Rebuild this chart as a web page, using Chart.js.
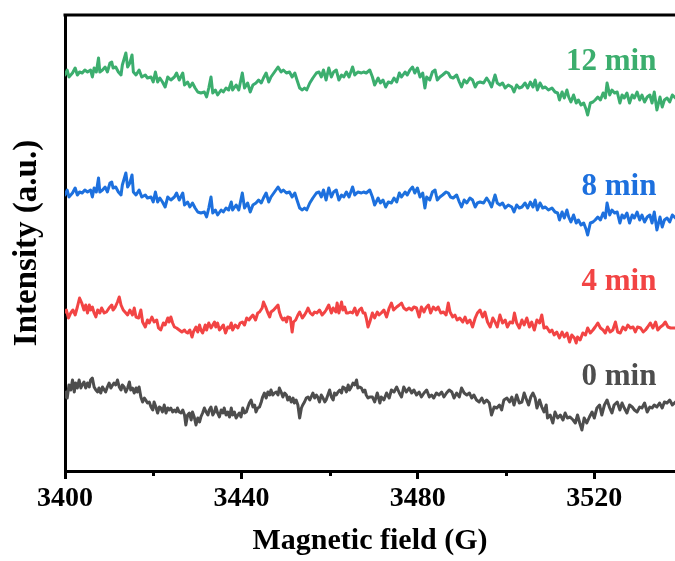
<!DOCTYPE html>
<html>
<head>
<meta charset="utf-8">
<script src="https://cdn.jsdelivr.net/npm/chart.js@4.4.1/dist/chart.umd.min.js"></script>
<style>
html,body{margin:0;padding:0;background:#fff;}
canvas{display:block;}
</style>
</head>
<body>
<canvas id="c" width="675" height="561" style="width:675px;height:561px"></canvas>
<script>
// Series names
const seriesNames = ['0 min', '4 min', '8 min', '12 min'];
const seriesColors = ['#4d4d4d', '#f24444', '#1d70de', '#3cae6e'];

// Magnetic field (G) sampling of the 8 min and 12 min traces
const field812 = [
3400.0,3400.5,3400.9,3401.7,3402.3,3402.8,3403.3,3403.9,3404.5,3405.1,
3405.8,3406.2,3406.6,3407.1,3407.6,3407.9,3408.5,3409.1,3409.6,3410.2,
3410.6,3410.9,3411.5,3412.1,3412.7,3413.0,3413.8,3414.2,3414.7,3415.2,
3415.5,3416.1,3416.8,3417.4,3418.2,3418.7,3419.5,3420.0,3420.5,3421.0,
3421.5,3422.1,3422.7,3423.3,3424.0,3424.8,3425.3,3425.9,3426.7,3427.1,
3427.8,3428.3,3428.9,3429.5,3430.1,3430.8,3431.6,3432.1,3432.6,3433.1,
3433.5,3434.1,3434.6,3435.4,3435.9,3436.5,3437.1,3437.7,3438.0,3438.8,
3439.4,3440.2,3440.7,3441.4,3442.0,3442.6,3443.3,3443.9,3444.5,3445.0,
3445.6,3446.2,3446.7,3447.5,3448.3,3449.0,3449.5,3450.2,3450.9,3451.5,
3452.1,3452.6,3453.2,3453.8,3454.3,3454.8,3455.5,3456.2,3457.0,3457.6,
3458.1,3458.6,3459.2,3459.8,3460.4,3460.9,3461.5,3462.1,3462.7,3463.2,
3463.8,3464.4,3465.2,3465.7,3466.4,3467.2,3467.7,3468.3,3469.1,
3469.7,3470.2,3471.0,3471.5,3472.1,3472.7,3473.3,3474.0,3474.6,3475.2,
3475.8,3476.3,3477.1,3477.6,3478.2,3478.8,3479.3,3479.9,3480.5,3481.1,
3481.6,3482.0,3482.7,3483.3,3483.9,3484.4,3485.0,3485.6,3486.4,3486.9,
3487.4,3488.0,3488.8,3489.4,3489.9,3490.5,3491.1,3491.8,3492.4,3493.0,
3493.5,3494.1,3494.9,3495.6,3496.2,3496.7,3497.5,3498.0,3498.6,3499.2,
3499.8,3500.5,3501.3,3501.8,3502.4,3503.0,3503.6,3504.3,3504.9,3505.5,
3506.1,3506.6,3507.1,3507.7,3508.3,3508.9,3509.6,3510.4,3511.1,3511.7,
3512.1,3512.7,3513.2,3513.8,3514.2,3514.7,3515.3,3515.9,3516.4,3517.0,
3517.6,3518.2,3518.5,3519.1,3519.7,3520.2,3520.8,3521.4,3522.0,3522.5,
3522.9,3523.5,3524.0,3524.6,3525.2,3525.8,3526.3,3526.8,3527.4,3528.0,
3528.6,3529.1,3529.7,3530.3,3530.8,3531.4,3532.0,3532.6,3533.1,3533.6,
3534.2,3534.9,3535.4,3535.9,3536.5,3537.1,3537.7,3538.4
];

// Intensity (a.u., stacked offsets as plotted) - 12 min
const int12 = [
397,402,395,399,404,397,400,399,402,400,
402,395,404,400,414,400,402,405,400,409,
410,404,405,400,397,407,419,405,409,417,
400,397,402,395,397,394,395,390,400,390,
394,390,385,395,392,395,399,392,399,387,
390,385,389,384,380,379,380,375,384,395,
379,382,377,382,380,384,382,390,382,387,
382,399,384,389,380,387,389,392,389,394,
399,390,395,400,405,400,402,399,400,395,
399,392,384,382,384,382,389,394,399,400,
395,402,392,404,395,400,402,392,397,395,
400,395,405,397,400,399,400,399,402,
395,387,394,389,392,385,390,389,394,390,
399,395,400,397,402,405,399,404,395,399,
384,395,392,400,402,392,395,397,400,399,
395,394,397,390,385,392,389,394,392,385,
389,390,389,394,390,385,397,389,387,389,
384,387,385,380,387,384,385,389,384,390,
385,392,382,389,384,385,382,384,380,379,
372,380,374,382,375,370,377,369,372,367,
369,362,357,369,370,372,375,372,379,374,
389,377,382,379,380,369,377,374,379,369,
377,374,380,372,377,370,375,377,369,380,
362,375,365,372,374,370,377,374
];

// Intensity - 8 min
const int8 = [
277,282,275,279,284,277,280,279,282,280,
282,275,284,280,294,280,282,285,280,289,
290,284,285,280,277,287,299,285,289,297,
280,277,282,275,277,274,275,270,280,270,
274,270,265,275,272,275,279,272,279,267,
270,265,269,264,260,259,260,255,264,275,
259,262,257,262,260,264,262,270,262,267,
262,279,264,269,260,267,269,272,269,274,
279,270,275,280,285,280,282,279,280,275,
279,272,264,262,264,262,269,274,279,280,
275,282,272,284,275,280,282,272,277,275,
280,275,285,277,280,279,280,279,282,
275,267,274,269,272,265,270,269,274,270,
279,275,280,277,282,285,279,284,275,279,
264,275,272,280,282,272,275,277,280,279,
275,274,277,270,265,272,269,274,272,265,
269,270,269,274,270,265,277,269,267,269,
264,267,265,260,267,264,265,269,264,270,
265,272,262,269,264,265,262,264,260,259,
252,260,254,262,255,250,257,249,252,247,
249,242,237,249,250,252,255,252,259,254,
269,257,262,259,260,249,257,254,259,249,
257,254,260,252,257,250,255,257,249,260,
242,255,245,252,254,250,257,254
];

// Magnetic field (G) sampling of the 4 min trace
const field4 = [
3400.0,3400.3,3400.8,3401.3,3401.8,3402.3,3402.8,3403.3,3403.8,3404.3,
3404.7,3405.1,3405.5,3405.8,3406.2,3406.6,3407.0,3407.4,3407.9,3408.3,
3408.9,3409.4,3410.0,3410.6,3410.9,3411.4,3411.9,3412.3,3412.7,3413.2,
3413.6,3414.2,3414.7,3415.3,3415.7,3416.1,3416.7,3417.2,3417.6,3418.2,
3418.7,3419.1,3419.7,3420.2,3420.8,3421.2,3421.7,3422.3,3422.7,3423.3,
3423.6,3424.0,3424.4,3424.8,3425.3,3425.9,3426.5,3427.1,3427.4,3427.8,
3428.3,3428.8,3429.1,3429.7,3430.1,3430.5,3430.8,3431.2,3431.8,3432.1,
3432.6,3433.1,3433.5,3433.9,3434.2,3434.6,3435.0,3435.4,3435.9,3436.4,
3436.9,3437.3,3437.7,3438.0,3438.6,3439.2,3439.7,3440.2,3440.7,3441.2,
3441.7,3442.2,3442.6,3443.2,3443.7,3444.1,3444.7,3445.0,3445.5,3446.0,
3446.4,3446.7,3447.3,3447.9,3448.3,3448.6,3449.0,3449.4,3449.8,3450.2,
3450.5,3451.1,3451.5,3451.8,3452.3,3452.8,3453.2,3453.8,3454.3,3454.7,
3455.1,3455.6,3456.1,3456.6,3457.1,3457.7,3458.3,3458.9,3459.2,3459.8,
3460.4,3460.8,3461.4,3461.7,3462.1,3462.7,3463.0,3463.4,3463.8,3464.2,
3464.7,3465.2,3465.7,3466.2,3466.7,3467.2,3467.6,3468.0,3468.3,3468.7,
3469.1,
3469.7,3470.2,3470.8,3471.2,3471.7,3472.3,3472.9,3473.5,3474.0,3474.5,
3475.2,3475.8,3476.3,3476.8,3477.4,3478.0,3478.6,3479.1,3479.7,3480.3,
3480.8,3481.4,3481.8,3482.4,3482.9,3483.5,3484.1,3484.6,3485.2,3485.8,
3486.4,3486.9,3487.3,3487.9,3488.4,3488.9,3489.5,3490.2,3490.7,3491.2,
3491.8,3492.4,3493.0,3493.5,3494.1,3494.7,3495.2,3495.8,3496.4,3497.0,
3497.5,3498.0,3498.6,3499.2,3499.8,3500.3,3500.9,3501.5,3501.9,3502.4,
3503.0,3503.6,3504.1,3504.7,3505.3,3505.8,3506.4,3507.0,3507.6,3508.1,
3508.6,3509.2,3509.9,3510.4,3510.9,3511.5,3512.1,3512.7,3513.2,3513.8,
3514.4,3514.9,3515.5,3515.9,3516.2,3516.8,3517.4,3518.0,3518.5,3519.1,
3519.7,3520.2,3520.8,3521.4,3522.0,3522.5,3523.0,3523.6,3524.2,3524.8,
3525.3,3525.9,3526.5,3527.1,3527.6,3528.2,3528.8,3529.3,3529.8,3530.5,
3531.1,3531.6,3532.1,3532.7,3533.3,3533.9,3534.4,3535.0,3535.6,3536.1,
3536.7,3537.3,3538.4
];

// Intensity - 4 min
const int4 = [
160,162,154,159,162,157,165,174,169,162,
167,159,167,162,165,159,155,162,159,164,
159,160,164,167,162,165,170,175,167,162,
160,157,162,157,164,155,154,162,150,145,
152,149,155,150,152,144,142,149,147,154,
150,155,149,145,144,142,140,142,140,139,
142,135,140,145,140,147,142,139,147,142,
149,144,147,150,145,149,142,144,147,139,
145,144,149,142,147,144,149,150,147,154,
152,155,157,152,159,160,164,170,165,159,
155,160,162,165,167,160,155,152,154,150,
155,154,140,150,152,157,160,154,157,160,
164,159,157,160,159,162,157,160,162,167,
159,164,160,169,159,170,162,165,159,159,
160,159,164,157,162,164,159,159,154,145,
150,
159,154,160,157,159,162,155,164,169,162,
165,167,169,164,162,164,162,165,164,155,
165,160,164,167,159,165,162,165,159,160,
157,169,160,155,157,152,154,150,155,149,
152,145,154,159,162,155,160,150,145,154,
150,145,157,149,152,145,150,149,159,149,
144,152,147,154,145,150,142,152,149,157,
144,145,140,142,137,140,134,140,135,139,
130,137,134,129,135,132,139,137,144,139,
142,145,149,144,142,139,145,140,142,150,
140,139,145,142,147,144,145,140,145,144,
140,142,145,149,144,150,142,145,147,150,
145,144,144
];

// Magnetic field (G) sampling of the 0 min trace
const field0 = [
3400.0,3400.3,3400.5,3400.9,3401.3,3401.7,3402.1,3402.4,3402.8,3403.2,
3403.6,3403.9,3404.3,3404.7,3405.1,3405.5,3405.8,3406.2,3406.6,3407.0,
3407.4,3407.7,3408.1,3408.5,3408.9,3409.2,3409.6,3410.0,3410.4,3410.8,
3411.1,3411.5,3411.9,3412.3,3412.7,3413.0,3413.4,3413.8,3414.2,3414.6,
3414.9,3415.3,3415.7,3416.1,3416.4,3416.8,3417.2,3417.6,3418.0,3418.3,
3418.7,3419.1,3419.5,3419.9,3420.2,3420.6,3421.0,3421.4,3421.7,3422.1,
3422.5,3422.9,3423.3,3423.6,3424.0,3424.4,3424.8,3425.2,3425.5,3425.9,
3426.3,3426.7,3427.1,3427.4,3427.8,3428.2,3428.6,3428.9,3429.3,3429.7,
3430.1,3430.5,3430.8,3431.2,3431.6,3432.0,3432.4,3432.7,3433.1,3433.5,
3433.9,3434.2,3434.6,3435.0,3435.4,3435.8,3436.1,3436.5,3436.9,3437.3,
3437.7,3438.0,3438.4,3438.8,3439.2,3439.5,3439.9,3440.3,3440.7,3441.1,
3441.4,3441.8,3442.2,3442.6,3443.0,3443.3,3443.7,3444.1,3444.5,3444.8,
3445.2,3445.6,3446.0,3446.4,3446.7,3447.1,3447.5,3447.9,3448.3,3448.6,
3449.0,3449.4,3449.8,3450.2,3450.5,3450.9,3451.3,3451.7,3452.0,3452.4,
3452.8,3453.2,3453.6,3453.9,3454.3,3454.7,3455.1,3455.5,3455.8,3456.2,
3456.6,3457.0,3457.3,3457.7,3458.1,3458.5,3458.9,3459.2,3459.6,3460.0,
3460.4,3460.8,3461.1,3461.5,3461.9,3462.3,3462.7,3463.0,3463.4,3463.8,
3464.2,3464.5,3464.9,3465.3,3465.7,3466.1,3466.4,3466.8,3467.2,3467.6,
3468.0,3468.3,3468.7,3469.1,
3469.7,3470.2,3470.8,3471.4,3471.7,3472.3,3472.9,3473.5,3474.0,3474.6,
3475.2,3475.8,3476.3,3476.8,3477.4,3478.0,3478.6,3479.1,3479.7,3480.3,
3480.8,3481.4,3482.0,3482.6,3483.1,3483.6,3484.2,3484.8,3485.4,3485.9,
3486.5,3487.1,3487.7,3488.2,3488.8,3489.4,3489.9,3490.5,3491.1,3491.7,
3492.2,3492.7,3493.3,3493.9,3494.5,3495.0,3495.6,3496.2,3496.7,3497.3,
3497.9,3498.5,3499.0,3499.5,3500.2,3500.8,3501.3,3501.8,3502.4,3503.0,
3503.6,3504.1,3504.5,3505.1,3505.6,3506.1,3506.6,3507.0,3507.6,3508.1,
3508.6,3509.1,3509.4,3510.0,3510.6,3511.1,3511.7,3512.3,3512.9,3513.4,
3513.9,3514.5,3515.2,3515.7,3516.2,3516.7,3517.2,3517.7,3518.3,3518.9,
3519.5,3520.0,3520.6,3521.2,3521.7,3522.3,3522.9,3523.5,3524.0,3524.5,
3525.2,3525.8,3526.3,3526.8,3527.4,3528.0,3528.6,3529.1,3529.7,3530.3,
3530.8,3531.4,3532.0,3532.6,3533.1,3533.6,3534.2,3534.8,3535.4,3535.9,
3536.5,3537.1,3537.7,3538.4
];

// Intensity - 0 min
const int0 = [
75,80,74,87,82,92,80,89,84,92,
84,87,90,84,89,85,92,94,85,82,
80,84,79,85,82,80,85,89,84,87,
89,87,92,85,82,87,85,80,84,90,
82,84,79,84,80,85,75,70,74,72,
69,70,65,62,70,65,59,65,64,60,
67,59,64,62,64,60,62,60,64,60,
59,62,57,47,57,59,52,60,55,47,
54,50,55,59,64,60,57,62,65,57,
60,65,59,55,62,59,64,57,60,55,
64,57,60,54,57,59,55,64,59,60,
64,69,72,65,67,60,64,65,70,75,
79,74,80,77,82,77,79,80,77,84,
80,75,79,77,72,75,70,74,69,72,
67,54,64,67,70,74,75,72,75,79,
74,77,75,70,77,74,70,72,77,82,
75,72,79,77,80,82,79,85,84,80,
87,82,85,89,87,92,84,85,84,80,
82,77,74,75,
75,70,79,69,75,72,79,74,82,80,
85,79,75,85,80,84,79,82,77,80,
75,79,82,75,77,74,79,77,80,75,
79,82,80,74,79,75,84,79,77,79,
74,77,72,70,74,69,72,69,57,65,
64,67,62,72,74,70,75,67,77,69,
70,79,74,67,75,79,74,64,72,65,
60,67,54,57,49,60,54,57,52,59,
54,55,52,49,57,49,42,54,49,55,
60,54,64,67,57,67,72,64,59,67,
70,62,69,64,59,67,65,62,60,65,
64,69,60,65,64,67,65,69,64,70,
69,72,67,70
];

// Axis tick labels (x)
const xTickLabels = [3400, 3440, 3480, 3520];

const FONT = "'Liberation Serif','Times New Roman',Times,serif";

function pairs(xs, ys) { return xs.map((x, i) => ({x: x, y: ys[i]})); }

const seriesData = [pairs(field0, int0), pairs(field4, int4), pairs(field812, int8), pairs(field812, int12)];

const datasets = seriesNames.map((name, i) => ({
  label: name,
  data: seriesData[i],
  borderColor: seriesColors[i],
  backgroundColor: seriesColors[i],
  borderWidth: 3,
  pointRadius: 0,
  tension: 0,
  borderJoinStyle: 'round',
  borderCapStyle: 'round',
  fill: false
}));

const decorPlugin = {
  id: 'decor',
  afterDraw(chart, args, opts) {
    const ctx = chart.ctx;
    const ca = chart.chartArea;
    const xs = chart.scales.x, ys = chart.scales.y;
    ctx.save();
    // top frame line
    ctx.strokeStyle = '#000';
    ctx.lineWidth = 3;
    ctx.beginPath();
    ctx.moveTo(ca.left - 1.5, ca.top);
    ctx.lineTo(ca.right, ca.top);
    ctx.stroke();
    // minor ticks
    ctx.lineWidth = 3;
    xs.ticks.forEach(t => {
      if (t.value % 40 !== 0) {
        const px = Math.round(xs.getPixelForValue(t.value)) + 0.5;
        ctx.beginPath();
        ctx.moveTo(px, ca.bottom + 1.5);
        ctx.lineTo(px, ca.bottom + 5);
        ctx.stroke();
      }
    });
    // series labels
    ctx.font = 'bold ' + opts.size + 'px ' + FONT;
    ctx.textAlign = 'right';
    ctx.textBaseline = 'alphabetic';
    seriesNames.forEach((name, i) => {
      ctx.fillStyle = seriesColors[i];
      ctx.fillText(name, xs.getPixelForValue(opts.anchorField), ys.getPixelForValue(opts.anchorLevels[i]));
    });
    ctx.restore();
  }
};

new Chart(document.getElementById('c'), {
  type: 'line',
  data: { datasets: datasets },
  options: {
    responsive: false,
    animation: false,
    devicePixelRatio: 1,
    layout: { padding: { top: 15, right: 0, left: 0, bottom: 0 } },
    plugins: {
      legend: { display: false },
      tooltip: { enabled: false },
      decor: { size: 31, anchorField: 3534.1, anchorLevels: [87, 182, 277, 402] }
    },
    scales: {
      x: {
        type: 'linear',
        position: 'bottom',
        min: 3400,
        max: 3538.3,
        border: { display: true, width: 3, color: '#000' },
        grid: {
          display: true,
          drawOnChartArea: false,
          drawTicks: true,
          tickLength: 8,
          tickWidth: 3,
          tickColor: (c) => (c.tick && xTickLabels.includes(c.tick.value)) ? '#000' : 'rgba(0,0,0,0)'
        },
        ticks: {
          stepSize: 20,
          autoSkip: false,
          maxRotation: 0,
          includeBounds: false,
          padding: 3,
          color: '#000',
          font: { family: FONT, size: 28, weight: 'bold' },
          callback: (v) => xTickLabels.includes(v) ? String(v) : ''
        },
        title: {
          display: true,
          text: 'Magnetic field (G)',
          color: '#000',
          font: { family: FONT, size: 30, weight: 'bold' },
          padding: { top: 0, bottom: 2 }
        },
        afterFit: (s) => { s.height = 90; }
      },
      y: {
        type: 'linear',
        min: 1,
        max: 457,
        border: { display: true, width: 3, color: '#000' },
        grid: { display: true, drawOnChartArea: false, drawTicks: false },
        ticks: { display: false },
        title: {
          display: true,
          text: 'Intensity (a.u.)',
          color: '#000',
          font: { family: FONT, size: 33, weight: 'bold' },
          padding: { top: 8, bottom: 0 }
        },
        afterFit: (s) => { s.width = 65; }
      }
    }
  },
  plugins: [decorPlugin]
});
</script>
</body>
</html>
